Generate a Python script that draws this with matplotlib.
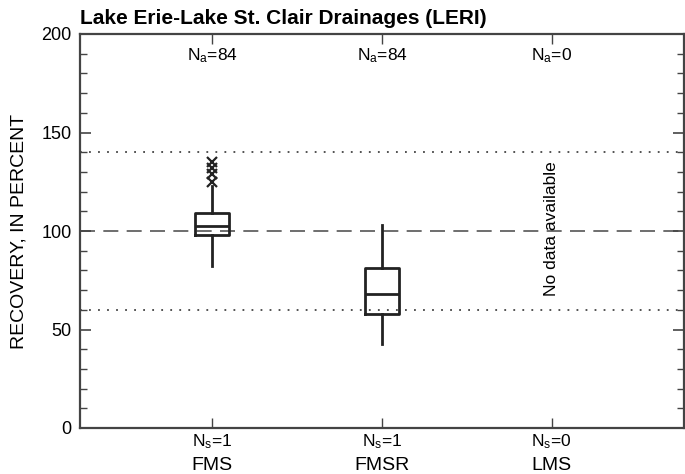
import matplotlib.pyplot as plt
from matplotlib.ticker import MultipleLocator
import matplotlib.transforms as mtransforms

plt.rcParams['font.family'] = ['Liberation Sans', 'DejaVu Sans']
plt.rcParams['mathtext.fontset'] = 'custom'
plt.rcParams['mathtext.rm'] = 'Liberation Sans'
plt.rcParams['mathtext.it'] = 'Liberation Sans'

# recovery summaries per method (percent)
methods = ['FMS', 'FMSR', 'LMS']
n_analyses = [84, 84, 0]
n_sites = [1, 1, 0]
q1 = [98, 58]
medians = [102.5, 68]
q3 = [109, 81]
whisker_lo = [82, 42.5]
whisker_hi = [123, 103]
outliers = [[125, 129, 132, 135], []]

stats = []
for i in range(len(q1)):
    stats.append({'med': medians[i], 'q1': q1[i], 'q3': q3[i],
                  'whislo': whisker_lo[i], 'whishi': whisker_hi[i],
                  'fliers': outliers[i]})

fig = plt.figure(figsize=(6.85, 4.74), dpi=100)
ax = fig.add_axes([80 / 685, 46 / 474, 604 / 685, 394 / 474])

axis_col = '#444444'
box_col = '#222222'

ax.axhline(100, color='#555555', lw=1.2, ls=(0, (9, 5)), zorder=1)
ax.axhline(140, color='#444444', lw=1.3, ls=(0, (1, 4)), zorder=1)
ax.axhline(60, color='#444444', lw=1.3, ls=(0, (1, 4)), zorder=1)

ax.bxp(stats, positions=[1, 2], widths=0.2, showcaps=False,
       boxprops=dict(color=box_col, lw=2),
       medianprops=dict(color=box_col, lw=2),
       whiskerprops=dict(color=box_col, lw=2),
       flierprops=dict(marker='x', markersize=7, markeredgecolor=box_col,
                       markeredgewidth=1.6, linestyle='none'),
       zorder=3)

ax.set_xlim(0.22, 3.78)
ax.set_ylim(0, 200)

ax.yaxis.set_major_locator(MultipleLocator(50))
ax.yaxis.set_minor_locator(MultipleLocator(10))
ax.set_xticks([1, 2, 3])
ax.set_xticklabels([])
ax.tick_params(axis='both', which='both', direction='in', top=True, right=True,
               color=axis_col)
ax.tick_params(axis='y', which='major', length=8, width=1.2, labelsize=13, pad=6)
ax.tick_params(axis='y', which='minor', length=5, width=1.0)
ax.tick_params(axis='x', which='major', length=7, width=1.0)
for s in ax.spines.values():
    s.set_color(axis_col)
    s.set_linewidth(1.6)

trans = mtransforms.blended_transform_factory(ax.transData, ax.transAxes)
for i, m in enumerate(methods):
    x = i + 1
    ax.text(x, 189, r'N$_\mathrm{a}$=%d' % n_analyses[i], ha='center', va='center',
            fontsize=12.5)
    ax.text(x, -0.035, r'N$_\mathrm{s}$=%d' % n_sites[i], ha='center', va='center',
            fontsize=12.5, transform=trans)
    ax.text(x, -0.095, m, ha='center', va='center', fontsize=14, transform=trans)

ax.text(3, 101, 'No data available', rotation=90, ha='center', va='center',
        fontsize=12.5)

ax.set_ylabel('RECOVERY, IN PERCENT', fontsize=14, labelpad=10)
fig.text(80 / 685, 1 - 18 / 474, 'Lake Erie-Lake St. Clair Drainages (LERI)',
         fontsize=15, fontweight='bold', ha='left', va='center')

fig.savefig('out.png', dpi=100)
